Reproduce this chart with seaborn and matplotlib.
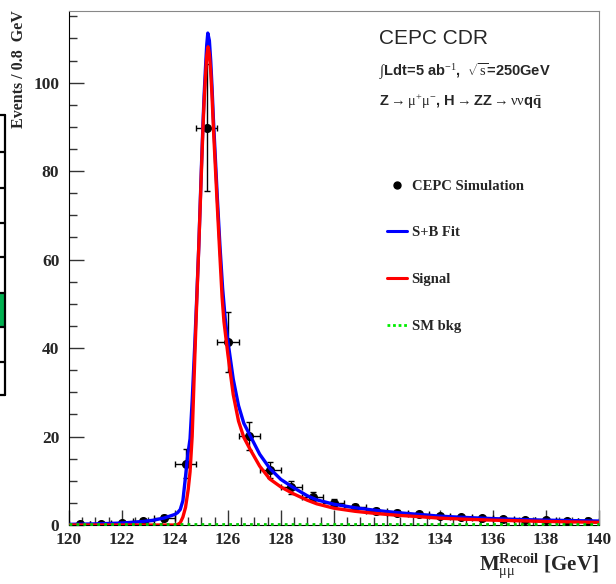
import matplotlib
matplotlib.use('Agg')
import matplotlib.pyplot as plt
from matplotlib.lines import Line2D
from matplotlib.patches import Rectangle
from matplotlib.ticker import MultipleLocator
import seaborn as sns
import pandas as pd

# binned simulation points (bin width 0.8 GeV)
bin_centers = [120.4, 121.2, 122.0, 122.8, 123.6, 124.4, 125.2, 126.0, 126.8, 127.6,
               128.4, 129.2, 130.0, 130.8, 131.6, 132.4, 133.2, 134.0, 134.8, 135.6,
               136.4, 137.2, 138.0, 138.8, 139.6]
events = [0.15, 0.2, 0.4, 0.9, 1.65, 13.9, 89.8, 41.3, 20.1, 12.4,
          8.5, 6.4, 5.05, 4.1, 3.2, 2.8, 2.5, 2.0, 1.7, 1.5,
          1.35, 1.1, 1.1, 1.0, 1.0]
events_err = [0.15, 0.2, 0.3, 0.4, 0.6, 3.2, 14.3, 6.8, 3.1, 1.8,
              1.4, 1.0, 0.8, 0.7, 0.6, 0.5, 0.5, 0.45, 0.4, 0.4,
              0.35, 0.35, 0.3, 0.3, 0.3]
bin_half = 0.4

# S+B fit curve
fit_x = [120.0, 121.0, 122.0, 122.8, 123.2, 123.6, 124.0, 124.1, 124.2, 124.3,
         124.4, 124.45, 124.5, 124.57, 124.65, 124.75, 124.82, 124.9, 125.0, 125.06,
         125.1, 125.15, 125.2, 125.24, 125.3, 125.35, 125.4, 125.45, 125.5, 125.6,
         125.7, 125.8, 125.9, 126.0, 126.2, 126.4, 126.6, 126.83, 127.2, 127.58,
         128.0, 128.46, 129.0, 129.35, 130.0, 130.8, 131.6, 132.4, 133.2, 134.0,
         135.0, 136.0, 137.0, 138.0, 139.0, 140.0]
fit_y = [0.15, 0.25, 0.45, 0.8, 1.1, 1.6, 2.4, 2.8, 3.5, 5.5,
         11.0, 14.0, 16.5, 19.5, 28.0, 41.0, 51.0, 63.0, 81.0, 91.0,
         97.0, 103.0, 108.5, 111.2, 109.5, 105.0, 99.0, 92.0, 86.0, 74.0,
         63.0, 53.5, 46.5, 41.5, 33.0, 27.0, 23.0, 20.3, 16.0, 12.8,
         10.3, 8.5, 6.6, 5.7, 4.7, 3.9, 3.3, 2.8, 2.4, 2.0,
         1.7, 1.45, 1.25, 1.1, 1.0, 0.9]

# signal component
sig_x = [120.0, 124.0, 124.1, 124.2, 124.3, 124.4, 124.5, 124.57, 124.65, 124.75,
         124.82, 124.9, 125.0, 125.06, 125.1, 125.15, 125.2, 125.25, 125.3, 125.35,
         125.4, 125.45, 125.5, 125.6, 125.7, 125.78, 125.85, 126.0, 126.2, 126.4,
         126.6, 126.83, 127.2, 127.58, 128.0, 128.46, 129.0, 129.35, 130.0, 130.8,
         131.6, 132.4, 133.2, 134.0, 135.0, 136.0, 137.0, 138.0, 139.0, 140.0]
sig_y = [0.0, 0.0, 0.1, 0.5, 1.8, 4.0, 8.0, 12.0, 20.0, 38.0,
         50.0, 63.0, 80.0, 90.0, 95.5, 101.0, 106.0, 108.1, 106.5, 102.5,
         97.0, 90.0, 84.0, 72.0, 60.5, 51.5, 46.0, 38.5, 29.5, 23.5,
         19.8, 17.2, 13.3, 10.4, 8.6, 7.1, 5.6, 4.8, 3.8, 3.1,
         2.6, 2.2, 1.9, 1.55, 1.3, 1.1, 0.95, 0.8, 0.7, 0.6]

# SM background component
bkg_x = [120.0, 140.0]
bkg_y = [0.2, 0.2]

sns.set_style('ticks')
plt.rcParams['font.family'] = ['Liberation Serif', 'DejaVu Serif']
plt.rcParams['mathtext.fontset'] = 'custom'
plt.rcParams['mathtext.rm'] = 'Liberation Serif'
plt.rcParams['mathtext.bf'] = 'Liberation Serif:bold'
plt.rcParams['mathtext.it'] = 'Liberation Serif'

fig = plt.figure(figsize=(6.16, 5.84), dpi=100)
ax = fig.add_axes([0.112, 0.101, 0.86, 0.881])

ax.errorbar(bin_centers, events, yerr=events_err, xerr=bin_half, fmt='o',
            color='black', ms=5.5, elinewidth=1, capsize=2, capthick=1, zorder=2)

fit_df = pd.DataFrame({'x': fit_x, 'y': fit_y})
sig_df = pd.DataFrame({'x': sig_x, 'y': sig_y})
bkg_df = pd.DataFrame({'x': bkg_x, 'y': bkg_y})
sns.lineplot(data=fit_df, x='x', y='y', ax=ax, color='#0000ff', lw=2.4, zorder=3)
sns.lineplot(data=sig_df, x='x', y='y', ax=ax, color='#ff0000', lw=2.4, zorder=4)
sns.lineplot(data=bkg_df, x='x', y='y', ax=ax, color='#00cc00', lw=2.0,
             linestyle=(0, (1, 1.5)), zorder=5, clip_on=False)

ax.set_xlim(120, 140)
ax.set_ylim(0, 116.3)
ax.xaxis.set_major_locator(MultipleLocator(2))
ax.xaxis.set_minor_locator(MultipleLocator(0.5))
ax.yaxis.set_major_locator(MultipleLocator(20))
ax.yaxis.set_minor_locator(MultipleLocator(5))
ax.tick_params(which='major', direction='in', length=11, width=1, labelsize=12.5,
               color='#333333')
ax.tick_params(which='minor', direction='in', length=6, width=1, color='#333333')
ax.tick_params(axis='x', pad=5)
ax.tick_params(axis='y', pad=7)
for lab in ax.get_xticklabels() + ax.get_yticklabels():
    lab.set_fontweight('bold')
for s in ['top', 'right']:
    ax.spines[s].set_color('#888888')
for s in ['left', 'bottom']:
    ax.spines[s].set_color('black')

ax.set_xlabel(r'$\mathbf{M}_{\mathrm{\mu\mu}}^{\mathbf{Recoil}}$ [GeV]', fontsize=15,
              fontweight='bold', loc='right')
ax.set_ylabel('Events / 0.8  GeV', fontsize=11.5, fontweight='bold', loc='top')
ax.xaxis.set_label_coords(1.0, -0.05)
ax.yaxis.set_label_coords(-0.08, 1.0)

ax.text(0.585, 0.945, 'CEPC CDR', transform=ax.transAxes, fontsize=15,
        family='Liberation Sans', va='center')
ax.text(0.585, 0.882, r'$\int$Ldt=5 ab$^{-1}$,  $\sqrt{s}$=250GeV',
        transform=ax.transAxes, fontsize=10.5, family='Liberation Sans',
        fontweight='bold', va='center')
ax.text(0.585, 0.822,
        r'Z$\rightarrow\mathrm{\mu}^{+}\mathrm{\mu}^{-}$, H$\rightarrow$ZZ$\rightarrow\mathrm{\nu\nu}$q$\mathbf{\bar{q}}$',
        transform=ax.transAxes, fontsize=10.5, family='Liberation Sans',
        fontweight='bold', va='center')

handles = [
    Line2D([], [], marker='o', color='black', linestyle='none', ms=5),
    Line2D([], [], color='#0000ff', lw=2.2),
    Line2D([], [], color='#ff0000', lw=2.2),
    Line2D([], [], color='#00ee00', lw=2.0, linestyle=(0, (1, 1))),
]
labels = ['CEPC Simulation', 'S+B Fit', 'Signal', 'SM bkg']
leg = ax.legend(handles, labels, loc='upper left', bbox_to_anchor=(0.575, 0.697),
                frameon=False, handlelength=1.4, handletextpad=0.3,
                labelspacing=2.3, prop={'family': 'Liberation Serif',
                                        'weight': 'bold', 'size': 10.5})

# fragment of a neighbouring table cut off at the left edge
W, H = 616, 584
tx = 5 / W
rows = [115, 151.7, 188, 223, 256.7, 292.7, 326.7, 361.7, 395]
fig.add_artist(Rectangle((0, 1 - 326.7 / H), tx, (326.7 - 292.7) / H,
                         transform=fig.transFigure, color='#00b050', lw=0))
fig.add_artist(Line2D([tx, tx], [1 - rows[0] / H, 1 - rows[-1] / H],
                      transform=fig.transFigure, color='black', lw=1.6))
for r in rows:
    fig.add_artist(Line2D([0, tx], [1 - r / H, 1 - r / H],
                          transform=fig.transFigure, color='black', lw=1.6))

fig.savefig('out.png', dpi=100)
